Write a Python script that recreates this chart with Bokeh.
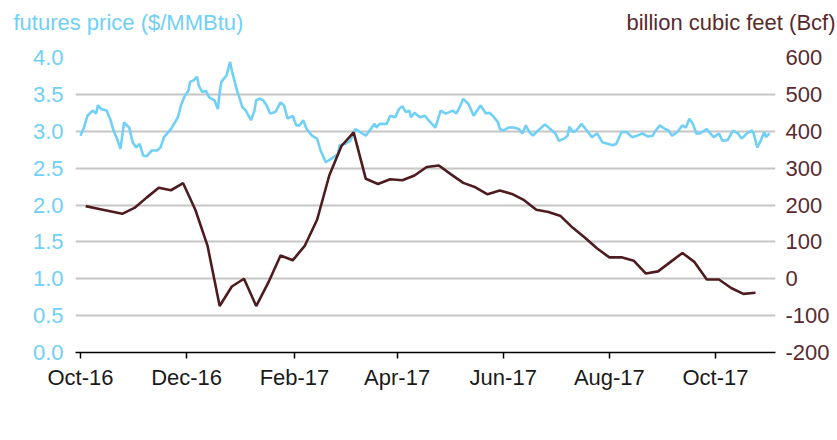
from datetime import datetime
import pandas as pd
from bokeh.plotting import figure
from bokeh.models import (Range1d, LinearAxis, FixedTicker, DatetimeTickFormatter,
                          Legend, LegendItem, Label, NumeralTickFormatter)
from bokeh.embed import file_html
from bokeh.resources import INLINE

# ---------------- data ----------------
price_dates = [
    "2016-10-01", "2016-10-03", "2016-10-05", "2016-10-08", "2016-10-10", "2016-10-11", "2016-10-13",
    "2016-10-16", "2016-10-18", "2016-10-20", "2016-10-22", "2016-10-24", "2016-10-26", "2016-10-29",
    "2016-10-31", "2016-11-02", "2016-11-04", "2016-11-06", "2016-11-08", "2016-11-11", "2016-11-14",
    "2016-11-16", "2016-11-18", "2016-11-22", "2016-11-26", "2016-11-28", "2016-11-30", "2016-12-02",
    "2016-12-03", "2016-12-05", "2016-12-07", "2016-12-08", "2016-12-10", "2016-12-12", "2016-12-14",
    "2016-12-17", "2016-12-19", "2016-12-20", "2016-12-21", "2016-12-24", "2016-12-26", "2016-12-27",
    "2016-12-28", "2016-12-30", "2017-01-02", "2017-01-04", "2017-01-07", "2017-01-09", "2017-01-10",
    "2017-01-12", "2017-01-14", "2017-01-16", "2017-01-18", "2017-01-21", "2017-01-24", "2017-01-26",
    "2017-01-28", "2017-01-31", "2017-02-02", "2017-02-04", "2017-02-06", "2017-02-08", "2017-02-11",
    "2017-02-14", "2017-02-16", "2017-02-19", "2017-02-23", "2017-02-26", "2017-02-27", "2017-03-02",
    "2017-03-05", "2017-03-08", "2017-03-14", "2017-03-19", "2017-03-20", "2017-03-22", "2017-03-26",
    "2017-03-28", "2017-03-31", "2017-04-02", "2017-04-04", "2017-04-06", "2017-04-08", "2017-04-09",
    "2017-04-11", "2017-04-14", "2017-04-17", "2017-04-19", "2017-04-23", "2017-04-26", "2017-04-29",
    "2017-05-01", "2017-05-03", "2017-05-05", "2017-05-07", "2017-05-09", "2017-05-12", "2017-05-15",
    "2017-05-17", "2017-05-19", "2017-05-22", "2017-05-24", "2017-05-26", "2017-05-29", "2017-05-30",
    "2017-06-01", "2017-06-04", "2017-06-07", "2017-06-10", "2017-06-12", "2017-06-14", "2017-06-16",
    "2017-06-18", "2017-06-21", "2017-06-25", "2017-06-28", "2017-07-01", "2017-07-03", "2017-07-06",
    "2017-07-08", "2017-07-09", "2017-07-11", "2017-07-13", "2017-07-16", "2017-07-19", "2017-07-22",
    "2017-07-25", "2017-07-28", "2017-07-31", "2017-08-03", "2017-08-05", "2017-08-08", "2017-08-11",
    "2017-08-14", "2017-08-17", "2017-08-20", "2017-08-23", "2017-08-26", "2017-08-27", "2017-08-30",
    "2017-09-02", "2017-09-04", "2017-09-06", "2017-09-09", "2017-09-12", "2017-09-14", "2017-09-16",
    "2017-09-18", "2017-09-20", "2017-09-22", "2017-09-26", "2017-09-28", "2017-09-30", "2017-10-03",
    "2017-10-05", "2017-10-08", "2017-10-11", "2017-10-14", "2017-10-16", "2017-10-19", "2017-10-22",
    "2017-10-23", "2017-10-25", "2017-10-27", "2017-10-29", "2017-10-30", "2017-11-01",
]
price_values = [
    2.94, 3.05, 3.21, 3.28, 3.24, 3.35, 3.30,
    3.28, 3.17, 3.01, 2.90, 2.76, 3.12, 3.05,
    2.85, 2.78, 2.83, 2.67, 2.66, 2.74, 2.74,
    2.78, 2.92, 3.03, 3.19, 3.37, 3.48, 3.55,
    3.67, 3.69, 3.74, 3.62, 3.53, 3.55, 3.46,
    3.42, 3.30, 3.53, 3.67, 3.76, 3.94, 3.82,
    3.73, 3.55, 3.33, 3.28, 3.15, 3.28, 3.42,
    3.44, 3.42, 3.35, 3.24, 3.26, 3.39, 3.35,
    3.17, 3.21, 3.08, 3.08, 3.15, 3.03, 2.94,
    2.90, 2.74, 2.58, 2.64, 2.69, 2.81, 2.83,
    2.87, 3.03, 2.94, 3.10, 3.05, 3.10, 3.10,
    3.21, 3.19, 3.30, 3.34, 3.26, 3.28, 3.19,
    3.25, 3.19, 3.21, 3.15, 3.05, 3.28, 3.24,
    3.26, 3.28, 3.24, 3.33, 3.44, 3.37, 3.21,
    3.28, 3.35, 3.24, 3.25, 3.21, 3.12, 3.03,
    3.01, 3.05, 3.05, 3.03, 2.97, 3.08, 2.99,
    2.94, 3.01, 3.09, 3.03, 2.97, 2.87, 2.90,
    2.94, 3.06, 2.99, 3.01, 3.10, 3.01, 2.92,
    2.97, 2.85, 2.83, 2.81, 2.83, 2.99, 2.99,
    2.92, 2.94, 2.97, 2.93, 2.94, 2.99, 3.08,
    3.03, 3.01, 2.94, 2.99, 3.08, 3.05, 3.17,
    3.10, 2.97, 2.97, 3.03, 2.97, 2.92, 2.97,
    2.87, 2.88, 3.01, 2.97, 2.90, 2.97, 3.01,
    2.97, 2.78, 2.87, 2.99, 2.92, 2.97,
]

storage_start = "2016-10-04"
storage_values = [
    197, 190, 183, 176, 192, 220, 247, 240, 259, 187,
    90, -74, -21, 0, -74, -10, 63, 50, 90, 160,
    280, 360, 397, 271, 257, 270, 267, 280, 303, 307,
    283, 260, 248, 229, 239, 230, 213, 187, 181, 170,
    138, 111, 82, 58, 58, 49, 14, 20, 45, 70,
    45, -2, -2, -25, -41, -38,
]

x_tick_dates = ["2016-10-01", "2016-12-01", "2017-02-01", "2017-04-01",
                "2017-06-01", "2017-08-01", "2017-10-01"]
price_ticks = [0.0, 0.5, 1.0, 1.5, 2.0, 2.5, 3.0, 3.5, 4.0]
storage_ticks = [-200, -100, 0, 100, 200, 300, 400, 500, 600]

left_title = "futures price ($/MMBtu)"
right_title = "billion cubic feet (Bcf)"
series_names = ["Henry Hub futures price", "Current storage minus 5-year average"]

# ---------------- styling ----------------
FONT = "Liberation Sans"
BLUE = "#70d0f6"
BROWN = "#4e1c1e"
RIGHT_TXT = "#5a2b2c"
FS = "22px"


def ms(s):
    return pd.Timestamp(s).value / 1e6


p_dates = pd.to_datetime(price_dates)
s_dates = pd.date_range(storage_start, periods=len(storage_values), freq="7D")

p = figure(frame_width=700, frame_height=295, output_backend="svg", toolbar_location=None,
           x_axis_type="datetime",
           x_range=Range1d(datetime(2016, 9, 28, 3), datetime(2017, 11, 4, 12)),
           y_range=Range1d(0, 4),
           min_border_left=75, min_border_right=62, min_border_top=57, min_border_bottom=0)
p.extra_y_ranges = {"bcf": Range1d(-200, 600)}
p.outline_line_color = None
p.background_fill_color = "white"
p.title.text = ""

r_price = p.line(p_dates, price_values, line_color=BLUE, line_width=2.6)
r_stor = p.line(s_dates, storage_values, line_color=BROWN, line_width=2.6, y_range_name="bcf")

# axis titles: labels placed in the top side panel (screen units)
p.add_layout(Label(x=-62, y=35, x_units="screen", y_units="screen", text=left_title,
                   text_align="left", text_baseline="middle", text_font=FONT,
                   text_font_size=FS, text_color=BLUE), "above")
p.add_layout(Label(x=760, y=10, x_units="screen", y_units="screen", text=right_title,
                   text_align="right", text_baseline="middle", text_font=FONT,
                   text_font_size=FS, text_color=RIGHT_TXT), "above")

# x axis
xa = p.xaxis[0]
xa.axis_label = None
xa.ticker = FixedTicker(ticks=[ms(d) for d in x_tick_dates])
xa.formatter = DatetimeTickFormatter(months="%b-%y", days="%b-%y", years="%b-%y")
xa.axis_line_color = "black"
xa.axis_line_width = 1.5
xa.major_tick_line_color = "black"
xa.major_tick_line_width = 1.5
xa.major_tick_out = 6
xa.major_tick_in = 0
xa.minor_tick_line_color = None
xa.major_label_text_font = FONT
xa.major_label_text_font_size = FS
xa.major_label_text_color = "#1a1a1a"
xa.major_label_standoff = 6

# left axis
ya = p.yaxis[0]
ya.axis_label = None
ya.ticker = FixedTicker(ticks=price_ticks)
ya.formatter = NumeralTickFormatter(format="0.0")
ya.axis_line_color = None
ya.major_tick_line_color = None
ya.minor_tick_line_color = None
ya.major_label_text_font = FONT
ya.major_label_text_font_size = FS
ya.major_label_text_color = BLUE
ya.major_label_standoff = 6

# right axis
ra = LinearAxis(y_range_name="bcf", ticker=FixedTicker(ticks=storage_ticks),
                formatter=NumeralTickFormatter(format="0"))
ra.axis_line_color = None
ra.major_tick_line_color = None
ra.minor_tick_line_color = None
ra.major_label_text_font = FONT
ra.major_label_text_font_size = FS
ra.major_label_text_color = RIGHT_TXT
ra.major_label_standoff = 4
p.add_layout(ra, "right")

p.xgrid.grid_line_color = None
p.ygrid.grid_line_color = "#c6c6c6"
p.ygrid.grid_line_width = 2
p.ygrid.ticker = FixedTicker(ticks=price_ticks)

legend = Legend(items=[LegendItem(label=series_names[0], renderers=[r_price]),
                       LegendItem(label=series_names[1], renderers=[r_stor])],
                orientation="horizontal", location="top_center")
legend.border_line_color = None
legend.background_fill_alpha = 0
legend.label_text_font = FONT
legend.label_text_font_size = FS
legend.label_text_color = "#44546a"
legend.glyph_width = 22
legend.label_standoff = 8
legend.spacing = 6
legend.padding = 0
legend.margin = 0
p.add_layout(legend, "below")

open("out.html", "w").write(file_html(p, INLINE))
